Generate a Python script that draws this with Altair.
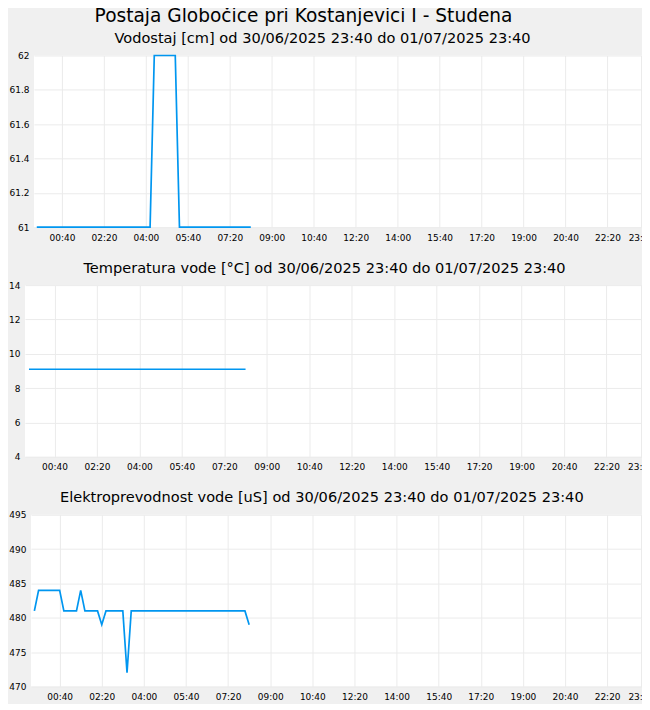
import altair as alt
import pandas as pd

# ---- data (10-minute readings, 30/06/2025 23:40 .. 01/07/2025 08:10) ----
times = pd.date_range("2025-06-30 23:40", "2025-07-01 08:10", freq="10min")
time_str = [t.strftime("%Y-%m-%dT%H:%M:00Z") for t in times]

vodostaj = [61, 61, 61, 61, 61, 61, 61, 61, 61, 61,
            61, 61, 61, 61, 61, 61, 61, 61, 61, 61,
            61, 61, 61, 61, 61, 61, 61, 61, 62, 62,
            62, 62, 62, 62, 61, 61, 61, 61, 61, 61,
            61, 61, 61, 61, 61, 61, 61, 61, 61, 61,
            61, 61]

temperatura = [9.1, 9.1, 9.1, 9.1, 9.1, 9.1, 9.1, 9.1, 9.1, 9.1,
               9.1, 9.1, 9.1, 9.1, 9.1, 9.1, 9.1, 9.1, 9.1, 9.1,
               9.1, 9.1, 9.1, 9.1, 9.1, 9.1, 9.1, 9.1, 9.1, 9.1,
               9.1, 9.1, 9.1, 9.1, 9.1, 9.1, 9.1, 9.1, 9.1, 9.1,
               9.1, 9.1, 9.1, 9.1, 9.1, 9.1, 9.1, 9.1, 9.1, 9.1,
               9.1, 9.1]

prevodnost = [481, 484, 484, 484, 484, 484, 484, 481, 481, 481,
              481, 484, 481, 481, 481, 481, 479, 481, 481, 481,
              481, 481, 472, 481, 481, 481, 481, 481, 481, 481,
              481, 481, 481, 481, 481, 481, 481, 481, 481, 481,
              481, 481, 481, 481, 481, 481, 481, 481, 481, 481,
              481, 479]

tick_times = ["2025-07-01T00:40:00Z", "2025-07-01T02:20:00Z", "2025-07-01T04:00:00Z",
              "2025-07-01T05:40:00Z", "2025-07-01T07:20:00Z", "2025-07-01T09:00:00Z",
              "2025-07-01T10:40:00Z", "2025-07-01T12:20:00Z", "2025-07-01T14:00:00Z",
              "2025-07-01T15:40:00Z", "2025-07-01T17:20:00Z", "2025-07-01T19:00:00Z",
              "2025-07-01T20:40:00Z", "2025-07-01T22:20:00Z", "2025-07-01T23:40:00Z"]

main_title = "Postaja Globočice pri Kostanjevici I - Studena"
titles = ["Vodostaj [cm] od 30/06/2025 23:40 do 01/07/2025 23:40",
          "Temperatura vode [°C] od 30/06/2025 23:40 do 01/07/2025 23:40",
          "Elektroprevodnost vode [uS] od 30/06/2025 23:40 do 01/07/2025 23:40"]

df = pd.DataFrame({"t": time_str, "vodostaj": vodostaj,
                   "temperatura": temperatura, "prevodnost": prevodnost})


def ms(s):
    return int(pd.Timestamp(s).value // 10**6)


start_ms = ms("2025-06-30T23:40:00Z")
end_ms = ms("2025-07-01T23:40:00Z")
tick_ms = [ms(s) for s in tick_times]

FONT = "DejaVu Sans"
LINE = "#0096f0"
GRID = "#ebebeb"
BG = "#f0f0f0"


def spacer():
    # invisible 1px column so each panel's plot starts right after its own y labels
    return alt.Chart(df).mark_point(opacity=0, size=0).encode(
        x=alt.value(0), y=alt.value(0)
    ).properties(width=1, height=172, view=alt.ViewBackground(fill=BG, strokeWidth=0))


def panel(field, title, ydom, yvals, pad_l, pad_r, width, dx):
    x = alt.X("t:T",
              scale=alt.Scale(type="utc", nice=False,
                              domain=[start_ms - pad_l * 60000, end_ms + pad_r * 60000]),
              axis=alt.Axis(values=tick_ms, labelExpr="utcFormat(datum.value, '%H:%M')",
                            title=None, grid=True, gridColor=GRID, ticks=False, domain=False,
                            labelFont=FONT, labelFontSize=9, labelColor="#000",
                            labelPadding=6, labelFlush=False, labelOverlap=False,
                            minExtent=0))
    y = alt.Y(f"{field}:Q",
              scale=alt.Scale(domain=ydom, nice=False, zero=False),
              axis=alt.Axis(values=yvals, format="~f", title=None, grid=True, gridColor=GRID,
                            ticks=False, domain=False, labelFont=FONT, labelFontSize=9,
                            labelColor="#000", labelPadding=5, minExtent=0))
    unit = alt.Chart(df).mark_line(color=LINE, strokeWidth=1.7).encode(x=x, y=y).properties(
        width=width, height=172,
        view=alt.ViewBackground(fill="white", strokeWidth=0),
        title=alt.TitleParams(title, font=FONT, fontSize=14.6, fontWeight="normal",
                              color="#000", anchor="middle", frame="group", dx=dx, offset=6))
    return alt.hconcat(spacer(), unit, spacing=0)


p1 = panel("vodostaj", titles[0], [61, 62], [61, 61.2, 61.4, 61.6, 61.8, 62],
           6.7, 21.2, 617, -19.5)
p2 = panel("temperatura", titles[1], [4, 14], [4, 6, 8, 10, 12, 14],
           9.4, 22.3, 626, -13)
p3 = panel("prevodnost", titles[2], [470, 495], [470, 475, 480, 485, 490, 495],
           8.1, 21.8, 620, -18.7)

chart = alt.vconcat(p1, p2, p3, spacing=18).properties(
    title=alt.TitleParams(main_title, font=FONT, fontSize=18.6, fontWeight="normal",
                          color="#000", anchor="middle", dx=-27, offset=5.5),
    background=BG,
    padding={"left": -1, "top": -2, "right": -13, "bottom": 2},
).configure_view(strokeWidth=0)

chart.save("out.html", embed_options={"renderer": "svg", "actions": False})
